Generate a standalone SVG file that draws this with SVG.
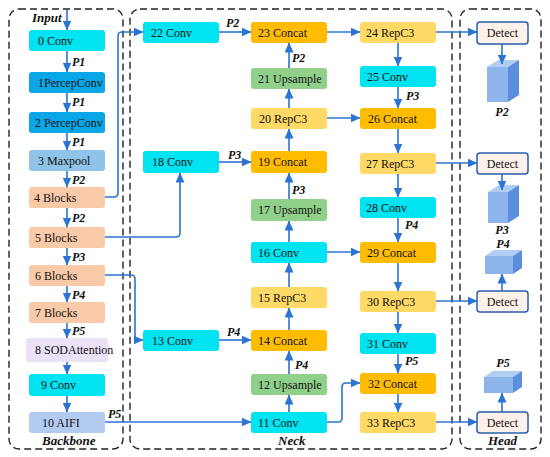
<svg xmlns="http://www.w3.org/2000/svg" width="550" height="457" viewBox="0 0 550 457">
<defs>
<marker id="ah" markerUnits="userSpaceOnUse" markerWidth="10" markerHeight="9" refX="9.5" refY="4.5" orient="auto">
<path d="M0,0 L10,4.5 L0,9 Z" fill="#2b74d2"/>
</marker>
<style>
.panel{fill:none;stroke:#222;stroke-width:1.4;stroke-dasharray:7,4}
.n{stroke:none}
.t{font-family:"Liberation Serif","Times New Roman",serif;font-size:12px;fill:#111}
.p{font-family:"Liberation Serif","Times New Roman",serif;font-size:12px;font-weight:bold;font-style:italic;fill:#111}
.lbl{font-family:"Liberation Serif","Times New Roman",serif;font-size:13px;font-weight:bold;font-style:italic;fill:#111}
.c{fill:none;stroke:#2b74d2;stroke-width:1.6;marker-end:url(#ah)}
.conv{fill:#00e3f0}
.pc{fill:#0aa6e6}
.mp{fill:#8fc3e8}
.blk{fill:#f9caa8}
.sod{fill:#ebe2f8}
.aifi{fill:#b3cbf0}
.cat{fill:#ffbc00}
.rep{fill:#ffd966}
.up{fill:#90d08a}
.det{fill:#fdf1ea;stroke:#2a5eaa;stroke-width:1.5}
.cf{fill:#8eb4ec}
.cs{fill:#5b8edc}
.ct{fill:#b2cdf4}
</style>
</defs>
<rect width="550" height="457" fill="#fff"/>
<g id="panels">
<rect class="panel" x="9" y="9" width="114" height="440" rx="10"/>
<rect class="panel" x="130" y="9" width="322" height="440" rx="10"/>
<rect class="panel" x="460" y="9" width="81" height="440" rx="10"/>
<text class="lbl" x="32" y="22">Input</text>
<text class="lbl" x="42" y="445">Backbone</text>
<text class="lbl" x="278" y="445">Neck</text>
<text class="lbl" x="488" y="445">Head</text>
</g>
<g id="n0"><rect class="n conv" x="29" y="30" width="76" height="21" rx="3"/><text class="t" x="38" y="45">0 Conv</text></g>
<g id="n1"><rect class="n pc" x="29" y="72" width="76" height="21" rx="3"/><text class="t" x="38" y="87">1PercepConv</text></g>
<g id="n2"><rect class="n pc" x="29" y="112" width="76" height="21" rx="3"/><text class="t" x="35" y="127">2 PercepConv</text></g>
<g id="n3"><rect class="n mp" x="29" y="150" width="76" height="21" rx="3"/><text class="t" x="38" y="165">3 Maxpool</text></g>
<g id="n4"><rect class="n blk" x="29" y="187" width="76" height="21" rx="3"/><text class="t" x="34" y="202">4 Blocks</text></g>
<g id="n5"><rect class="n blk" x="29" y="227" width="76" height="21" rx="3"/><text class="t" x="35" y="242">5 Blocks</text></g>
<g id="n6"><rect class="n blk" x="29" y="265" width="76" height="21" rx="3"/><text class="t" x="35" y="280">6 Blocks</text></g>
<g id="n7"><rect class="n blk" x="29" y="302" width="76" height="21" rx="3"/><text class="t" x="35" y="317">7 Blocks</text></g>
<g id="n8"><rect class="n sod" x="26" y="338" width="82" height="24" rx="3"/><text class="t" x="35" y="354">8 SODAttention</text></g>
<g id="n9"><rect class="n conv" x="29" y="374" width="76" height="22" rx="3"/><text class="t" x="41" y="389">9 Conv</text></g>
<g id="n10"><rect class="n aifi" x="29" y="412" width="76" height="21" rx="3"/><text class="t" x="42" y="427">10 AIFI</text></g>
<g id="n11"><rect class="n conv" x="251" y="412" width="76" height="21" rx="3"/><text class="t" x="258" y="427">11 Conv</text></g>
<g id="n12"><rect class="n up" x="251" y="374" width="76" height="21" rx="3"/><text class="t" x="258" y="389">12 Upsample</text></g>
<g id="n13"><rect class="n conv" x="143" y="330" width="76" height="21" rx="3"/><text class="t" x="152" y="345">13 Conv</text></g>
<g id="n14"><rect class="n cat" x="251" y="330" width="76" height="21" rx="3"/><text class="t" x="258" y="345">14 Concat</text></g>
<g id="n15"><rect class="n rep" x="251" y="287" width="76" height="21" rx="3"/><text class="t" x="258" y="302">15 RepC3</text></g>
<g id="n16"><rect class="n conv" x="251" y="242" width="76" height="21" rx="3"/><text class="t" x="258" y="257">16 Conv</text></g>
<g id="n17"><rect class="n up" x="251" y="199" width="76" height="22" rx="3"/><text class="t" x="258" y="214">17 Upsample</text></g>
<g id="n18"><rect class="n conv" x="143" y="151" width="76" height="22" rx="3"/><text class="t" x="152" y="166">18 Conv</text></g>
<g id="n19"><rect class="n cat" x="251" y="151" width="76" height="22" rx="3"/><text class="t" x="258" y="166">19 Concat</text></g>
<g id="n20"><rect class="n rep" x="251" y="108" width="76" height="21" rx="3"/><text class="t" x="259" y="123">20 RepC3</text></g>
<g id="n21"><rect class="n up" x="251" y="68" width="76" height="21" rx="3"/><text class="t" x="258" y="83">21 Upsample</text></g>
<g id="n22"><rect class="n conv" x="143" y="22" width="76" height="21" rx="3"/><text class="t" x="151" y="37">22 Conv</text></g>
<g id="n23"><rect class="n cat" x="251" y="22" width="76" height="21" rx="3"/><text class="t" x="258" y="37">23 Concat</text></g>
<g id="n24"><rect class="n rep" x="360" y="22" width="76" height="21" rx="3"/><text class="t" x="366" y="37">24 RepC3</text></g>
<g id="n25"><rect class="n conv" x="360" y="66" width="76" height="21" rx="3"/><text class="t" x="367" y="81">25 Conv</text></g>
<g id="n26"><rect class="n cat" x="360" y="108" width="76" height="21" rx="3"/><text class="t" x="368" y="123">26 Concat</text></g>
<g id="n27"><rect class="n rep" x="360" y="153" width="76" height="21" rx="3"/><text class="t" x="366" y="168">27 RepC3</text></g>
<g id="n28"><rect class="n conv" x="360" y="197" width="76" height="21" rx="3"/><text class="t" x="366" y="212">28 Conv</text></g>
<g id="n29"><rect class="n cat" x="360" y="242" width="76" height="21" rx="3"/><text class="t" x="367" y="257">29 Concat</text></g>
<g id="n30"><rect class="n rep" x="360" y="291" width="76" height="21" rx="3"/><text class="t" x="367" y="306">30 RepC3</text></g>
<g id="n31"><rect class="n conv" x="360" y="333" width="76" height="21" rx="3"/><text class="t" x="367" y="348">31 Conv</text></g>
<g id="n32"><rect class="n cat" x="360" y="373" width="76" height="21" rx="3"/><text class="t" x="368" y="388">32 Concat</text></g>
<g id="n33"><rect class="n rep" x="360" y="412" width="76" height="21" rx="3"/><text class="t" x="367" y="427">33 RepC3</text></g>
<g id="d1"><rect class="det" x="477" y="22" width="51" height="22" rx="3"/><text class="t" x="502.5" y="37" text-anchor="middle">Detect</text></g>
<g id="d2"><rect class="det" x="477" y="153" width="51" height="21" rx="3"/><text class="t" x="502.5" y="168" text-anchor="middle">Detect</text></g>
<g id="d3"><rect class="det" x="477" y="291" width="51" height="21" rx="3"/><text class="t" x="502.5" y="306" text-anchor="middle">Detect</text></g>
<g id="d4"><rect class="det" x="477" y="412" width="51" height="21" rx="3"/><text class="t" x="502.5" y="427" text-anchor="middle">Detect</text></g>
<g id="cubeP2">
<polygon class="ct" points="487,67 498,60 519,60 508,67"/>
<polygon class="cs" points="508,67 519,60 519,95 508,102"/>
<rect class="cf" x="487" y="67" width="21" height="35"/>
<text class="p" x="502" y="116" text-anchor="middle">P2</text>
</g>
<g id="cubeP3">
<polygon class="ct" points="488,192 499,185 519,185 508,192"/>
<polygon class="cs" points="508,192 519,185 519,216 508,223"/>
<rect class="cf" x="488" y="192" width="20" height="31"/>
<text class="p" x="502" y="234" text-anchor="middle">P3</text>
</g>
<g id="cubeP4">
<polygon class="ct" points="485,256 494,250 522,250 513,256"/>
<polygon class="cs" points="513,256 522,250 522,268 513,274"/>
<rect class="cf" x="485" y="256" width="28" height="18"/>
<text class="p" x="503" y="248" text-anchor="middle">P4</text>
</g>
<g id="cubeP5">
<polygon class="ct" points="484,377 493,371 522,371 513,377"/>
<polygon class="cs" points="513,377 522,371 522,387 513,393"/>
<rect class="cf" x="484" y="377" width="29" height="16"/>
<text class="p" x="503" y="367" text-anchor="middle">P5</text>
</g>
<g id="connectors">
<path class="c" d="M67,10 V30"/>
<path class="c" d="M67,51 V72"/>
<path class="c" d="M67,93 V112"/>
<path class="c" d="M67,133 V150"/>
<path class="c" d="M67,171 V187"/>
<path class="c" d="M67,208 V227"/>
<path class="c" d="M67,248 V265"/>
<path class="c" d="M67,286 V302"/>
<path class="c" d="M67,323 V338"/>
<path class="c" d="M67,362 V374"/>
<path class="c" d="M67,396 V412"/>
<path class="c" d="M105,197 H114 Q118,197 118,193 V36 Q118,32 122,32 H143"/>
<path class="c" d="M105,237 H176 Q180,237 180,233 V173"/>
<path class="c" d="M105,275 H131 Q135,275 135,279 V336 Q135,340 139,340 H143"/>
<path class="c" d="M105,422 H251"/>
<path class="c" d="M219,32 H251"/>
<path class="c" d="M289,68 V43"/>
<path class="c" d="M289,108 V89"/>
<path class="c" d="M289,151 V129"/>
<path class="c" d="M219,162 H251"/>
<path class="c" d="M289,199 V173"/>
<path class="c" d="M289,242 V221"/>
<path class="c" d="M289,287 V263"/>
<path class="c" d="M289,330 V308"/>
<path class="c" d="M219,340 H251"/>
<path class="c" d="M289,374 V351"/>
<path class="c" d="M289,412 V395"/>
<path class="c" d="M327,32 H360"/>
<path class="c" d="M398,43 V66"/>
<path class="c" d="M398,87 V108"/>
<path class="c" d="M327,118 H360"/>
<path class="c" d="M398,129 V153"/>
<path class="c" d="M398,174 V197"/>
<path class="c" d="M398,218 V242"/>
<path class="c" d="M327,252 H360"/>
<path class="c" d="M398,263 V291"/>
<path class="c" d="M398,312 V333"/>
<path class="c" d="M398,354 V373"/>
<path class="c" d="M327,422 H338 Q342,422 342,418 V387 Q342,383 346,383 H360"/>
<path class="c" d="M398,394 V412"/>
<path class="c" d="M436,32 H477"/>
<path class="c" d="M436,163 H477"/>
<path class="c" d="M436,301 H477"/>
<path class="c" d="M436,422 H477"/>
<path class="c" d="M502,44 V64"/>
<path class="c" d="M502,174 V190"/>
<path class="c" d="M502,291 V274"/>
<path class="c" d="M502,412 V393"/>
<text class="p" x="72" y="66">P1</text>
<text class="p" x="72" y="106">P1</text>
<text class="p" x="72" y="146">P1</text>
<text class="p" x="72" y="184">P2</text>
<text class="p" x="72" y="222">P2</text>
<text class="p" x="72" y="261">P3</text>
<text class="p" x="72" y="299">P4</text>
<text class="p" x="72" y="335">P5</text>
<text class="p" x="108" y="418">P5</text>
<text class="p" x="226" y="27">P2</text>
<text class="p" x="292" y="62">P2</text>
<text class="p" x="228" y="159">P3</text>
<text class="p" x="292" y="194">P3</text>
<text class="p" x="227" y="336">P4</text>
<text class="p" x="295" y="369">P4</text>
<text class="p" x="406" y="100">P3</text>
<text class="p" x="405" y="229">P4</text>
<text class="p" x="405" y="365">P5</text>
</g>
</svg>
